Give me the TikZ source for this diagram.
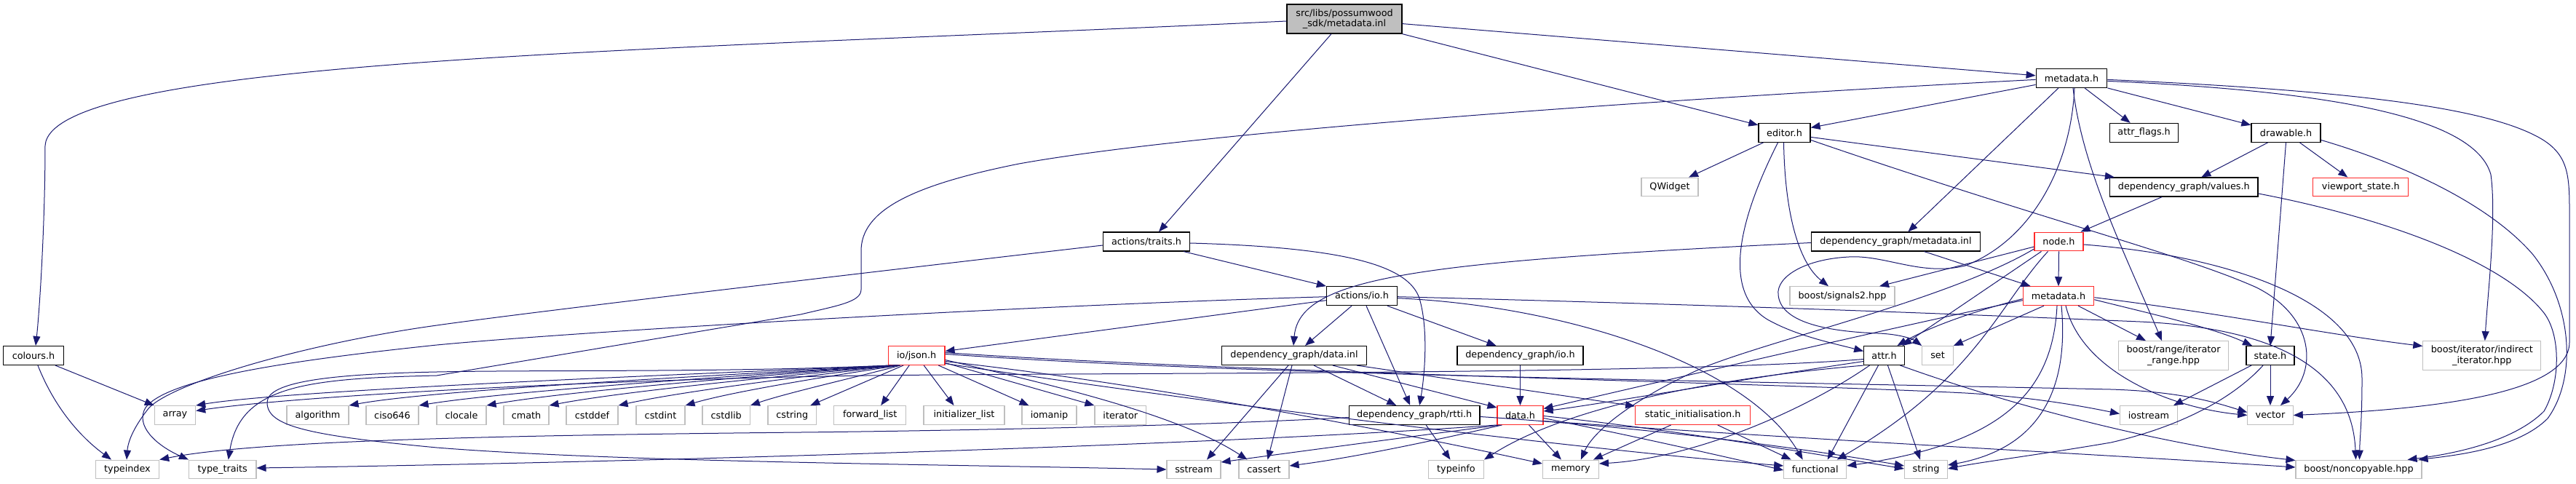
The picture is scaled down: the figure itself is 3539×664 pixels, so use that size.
\documentclass[tikz,border=0pt]{standalone}
\usepackage{fontspec}
\setmainfont{DejaVu Sans}
\usetikzlibrary{arrows.meta}
\definecolor{edgecol}{HTML}{191970}
\definecolor{gbox}{HTML}{BFBFBF}
\definecolor{rbox}{HTML}{FF2A2A}
\begin{document}
\begin{tikzpicture}[x=1pt,y=-1pt,
  nb/.style={draw=black,line width=1.3pt,fill=white,inner sep=0pt,minimum height=25.8pt,font=\fontsize{12.8pt}{14.5pt}\selectfont,align=center},
  ng/.style={nb,draw=gbox,line width=1.1pt},
  nr/.style={nb,draw=rbox,line width=1.1pt},
  ed/.style={draw=edgecol,line width=1pt,-{Triangle[length=13pt,width=10pt]}}]
\fill[white] (0,0) rectangle (3539,664);
\useasboundingbox (0,0) rectangle (3539,664);
% nodes
\node[nb,fill=gbox,minimum width=158pt,minimum height=40pt] (src) at (1847,26) {src/libs/possumwood\\\_sdk/metadata.inl};
\node[nb,minimum width=97.5pt] (metaH) at (2846,107.4) {metadata.h};
\node[nb,minimum width=83pt] (colours) at (46,488.5) {colours.h};
\node[nb,minimum width=119pt] (traits) at (1575,332) {actions/traits.h};
\node[nb,minimum width=71pt] (editor) at (2451.5,182.4) {editor.h};
\node[nb,minimum width=94pt] (attrflags) at (2945.6,182.4) {attr\_flags.h};
\node[nb,minimum width=95pt] (drawable) at (3140.5,182.4) {drawable.h};
\node[ng,minimum width=78pt] (qwidget) at (2294,257) {QWidget};
\node[nb,minimum width=203.5pt] (values) at (3000.3,257) {dependency\_graph/values.h};
\node[nr,minimum width=131pt] (viewport) at (3243.3,257) {viewport\_state.h};
\node[nb,minimum width=232pt] (dgmeta) at (2604.4,332) {dependency\_graph/metadata.inl};
\node[nr,minimum width=67pt] (nodeh) at (2828.5,332) {node.h};
\node[nb,minimum width=97pt] (actio) at (1871,406.7) {actions/io.h};
\node[ng,minimum width=144pt] (signals) at (2531,406.7) {boost/signals2.hpp};
\node[nr,minimum width=97.5pt] (dgmetah) at (2828,406.7) {metadata.h};
\node[nr,minimum width=77.6pt] (json) at (1259.2,488.5) {io/json.h};
\node[nb,minimum width=199pt] (datainl) at (1778,488.5) {dependency\_graph/data.inl};
\node[nb,minimum width=173pt] (dgio) at (2088.5,488.5) {dependency\_graph/io.h};
\node[nb,minimum width=55.4pt] (attr) at (2588.5,488.5) {attr.h};
\node[ng,minimum width=42.6pt] (setn) at (2662,488.5) {set};
\node[ng,minimum width=151pt,minimum height=39.6pt] (range) at (2986,488.5) {boost/range/iterator\\\_range.hpp};
\node[nb,minimum width=66pt] (state) at (3119,488.5) {state.h};
\node[ng,minimum width=162pt,minimum height=39.6pt] (indirect) at (3409.8,488.5) {boost/iterator/indirect\\\_iterator.hpp};
\node[ng,minimum width=56.3pt] (array) at (240.5,570.5) {array};
\node[ng,minimum width=85pt] (algorithm) at (436.5,570.5) {algorithm};
\node[ng,minimum width=72pt] (ciso646) at (539,570.5) {ciso646};
\node[ng,minimum width=68pt] (clocale) at (634,570.5) {clocale};
\node[ng,minimum width=62pt] (cmath) at (723,570.5) {cmath};
\node[ng,minimum width=71pt] (cstddef) at (813.5,570.5) {cstddef};
\node[ng,minimum width=67pt] (cstdint) at (907.5,570.5) {cstdint};
\node[ng,minimum width=65.4pt] (cstdlib) at (997.7,570.5) {cstdlib};
\node[ng,minimum width=66.7pt] (cstring) at (1088.3,570.5) {cstring};
\node[ng,minimum width=98.7pt] (fwdlist) at (1195.2,570.5) {forward\_list};
\node[ng,minimum width=111pt] (initlist) at (1324.5,570.5) {initializer\_list};
\node[ng,minimum width=75pt] (iomanip) at (1441.5,570.5) {iomanip};
\node[ng,minimum width=70.6pt] (iterator) at (1539.3,570.5) {iterator};
\node[nb,minimum width=179.6pt] (rtti) at (1943.2,570.5) {dependency\_graph/rtti.h};
\node[nr,minimum width=63pt] (datah) at (2088.5,570.5) {data.h};
\node[nr,minimum width=158pt] (staticinit) at (2325.7,570.5) {static\_initialisation.h};
\node[ng,minimum width=79pt] (iostream) at (2952,570.5) {iostream};
\node[ng,minimum width=62.4pt] (vector) at (3119,570.5) {vector};
\node[ng,minimum width=87.2pt] (typeindex) at (175,645) {typeindex};
\node[ng,minimum width=92.5pt] (typetraits) at (305.7,645) {type\_traits};
\node[ng,minimum width=74pt] (sstream) at (1640,645) {sstream};
\node[ng,minimum width=69pt] (cassert) at (1736.5,645) {cassert};
\node[ng,minimum width=75.8pt] (typeinfo) at (2000.5,645) {typeinfo};
\node[ng,minimum width=77pt] (memory) at (2157.9,645) {memory};
\node[ng,minimum width=86pt] (functional) at (2493.7,645) {functional};
\node[ng,minimum width=59pt] (stringn) at (2646,645) {string};
\node[ng,minimum width=173pt] (noncopyable) at (3240.5,645) {boost/noncopyable.hpp};
% src
\draw[ed] ([yshift=-3pt]src.west) .. controls (900,70) and (70,80) .. (62,200) .. controls (62,300) and (55,420) .. ([xshift=3pt]colours.north);
\draw[ed] ([xshift=-18pt]src.south) -- ([xshift=17pt]traits.north);
\draw[ed] (src.south east) -- ([yshift=-3pt]editor.north west);
\draw[ed] ([yshift=-6.6pt]src.east) -- ([yshift=3.6pt]metaH.west);
% metadata.h (top)
\draw[ed] ([yshift=-9pt]metaH.west) -- ([yshift=7pt]editor.east);
\draw[ed] ([xshift=18pt]metaH.south) -- ([xshift=-19pt]attrflags.north);
\draw[ed] (metaH.south east) -- ([yshift=-3pt]drawable.north west);
\draw[ed] ([xshift=-18pt]metaH.south) -- ([xshift=17pt]dgmeta.north);
\draw[ed] ([xshift=2pt]metaH.south) .. controls (2860,230) and (2920,350) .. ([xshift=-16pt]range.north);
\draw[ed] ([yshift=-4pt]metaH.east) .. controls (3200,125) and (3400,160) .. (3422,240) .. controls (3430,300) and (3418,400) .. ([xshift=4pt]indirect.north);
\draw[ed] ([yshift=-2pt]metaH.east) .. controls (3250,125) and (3420,150) .. (3490,190) .. controls (3528,212) and (3530,240) .. (3530,290) -- (3530,470) .. controls (3530,540) and (3350,562) .. (vector.east);
\draw[ed] ([xshift=4pt]metaH.south) .. controls (2845,230) and (2790,330) .. (2700,365) .. controls (2640,380) and (2590,350) .. (2540,353) .. controls (2480,356) and (2440,380) .. (2443,405) .. controls (2446,440) and (2500,455) .. (2580,458) .. controls (2610,459) and (2628,466) .. (setn.north west);
\draw[ed] ([yshift=-2pt]metaH.west) .. controls (2300,135) and (1650,180) .. (1400,225) .. controls (1250,255) and (1183,290) .. (1183,345) -- (1183,398) .. controls (1183,415) and (1150,420) .. (1100,432) -- (600,516) .. controls (420,520) and (330,530) .. ([xshift=8pt]typetraits.north);
% colours.h
\draw[ed] ([xshift=30pt]colours.south) -- (array.north west);
\draw[ed] ([xshift=6pt]colours.south) .. controls (75,560) and (110,600) .. ([xshift=-22pt]typeindex.north);
% actions/traits.h
\draw[ed] ([xshift=51pt]traits.south) -- (actio.north west);
\draw[ed] ([yshift=-2pt]traits.east) .. controls (1850,340) and (1935,365) .. (1950,410) .. controls (1962,450) and (1958,510) .. ([xshift=7pt]rtti.north);
\draw[ed] ([yshift=-5pt]traits.west) .. controls (1100,385) and (720,430) .. (600,447) .. controls (420,472) and (240,525) .. (205,560) .. controls (185,585) and (176,605) .. ([xshift=-1pt]typeindex.north);
% actions/io.h
\draw[ed] ([yshift=-6pt]actio.west) -- ([yshift=6pt]json.east);
\draw[ed] ([xshift=-14pt]actio.south) -- ([xshift=15pt]datainl.north);
\draw[ed] ([xshift=6pt]actio.south) -- ([xshift=-6pt]rtti.north);
\draw[ed] ([xshift=35pt]actio.south) -- ([xshift=-33pt]dgio.north);
\draw[ed] ([yshift=-1pt]actio.west) .. controls (1400,420) and (800,455) .. (600,474) .. controls (400,495) and (230,520) .. (200,560) .. controls (185,585) and (215,612) .. (typetraits.north west);
\draw[ed] ([yshift=-3pt]actio.east) .. controls (2150,420) and (2400,500) .. ([xshift=-17pt]functional.north);
\draw[ed] ([yshift=-1pt]actio.east) .. controls (2400,420) and (2700,432) .. (2940,442) .. controls (3150,452) and (3232,520) .. ([xshift=-4pt]noncopyable.north);
% io/json.h
\draw[ed] ([xshift=-30pt]json.south) .. controls (1000,512) and (400,535) .. (array.north east);
\draw[ed] ([xshift=-28pt]json.south) .. controls (1000,515) and (600,535) .. (algorithm.north east);
\draw[ed] ([xshift=-27pt]json.south) .. controls (1030,515) and (700,537) .. (ciso646.north east);
\draw[ed] ([xshift=-26pt]json.south) .. controls (1060,515) and (780,537) .. (clocale.north east);
\draw[ed] ([xshift=-25pt]json.south) .. controls (1090,515) and (860,537) .. (cmath.north east);
\draw[ed] ([xshift=-24pt]json.south) .. controls (1120,515) and (940,537) .. (cstddef.north east);
\draw[ed] ([xshift=-23pt]json.south) .. controls (1150,515) and (1010,537) .. (cstdint.north east);
\draw[ed] ([xshift=-22pt]json.south) .. controls (1190,515) and (1080,540) .. (cstdlib.north east);
\draw[ed] ([xshift=-18pt]json.south) -- ([xshift=25pt]cstring.north);
\draw[ed] ([xshift=-10pt]json.south) -- ([xshift=15pt]fwdlist.north);
\draw[ed] ([xshift=10pt]json.south) -- ([xshift=-14pt]initlist.north);
\draw[ed] ([xshift=30pt]json.south) -- ([xshift=-28pt]iomanip.north);
\draw[ed] ([yshift=-10pt]json.east) -- (iterator.north west);
\draw[ed] ([yshift=-6pt]json.east) .. controls (1450,530) and (1620,570) .. ([xshift=-23pt]cassert.north);
\draw[ed] ([xshift=-36pt]json.south) .. controls (1000,512) and (750,508) .. (600,511) .. controls (450,514) and (367,525) .. (367,553) .. controls (367,585) and (420,598) .. (600,615) .. controls (850,635) and (1300,638) .. (sstream.west);
\draw[ed] ([yshift=4pt]json.east) .. controls (1700,512) and (2400,525) .. (2700,540) .. controls (2800,546) and (2870,560) .. ([yshift=2pt]iostream.west);
\draw[ed] ([yshift=2pt]json.east) .. controls (1700,515) and (2300,522) .. (2900,535) .. controls (3000,538) and (3050,555) .. ([yshift=4pt]vector.west);
\draw[ed] ([yshift=-8pt]json.east) .. controls (1600,530) and (1950,600) .. ([yshift=8pt]memory.west);
\draw[ed] ([yshift=-11pt]json.east) .. controls (1700,560) and (2200,620) .. ([yshift=5pt]functional.west);
% dependency_graph/data.inl
\draw[ed] ([xshift=27pt]datainl.south) -- ([xshift=-25pt]rtti.north);
\draw[ed] ([xshift=53pt]datainl.south) -- ([yshift=-3pt]datah.north west);
\draw[ed] ([xshift=86pt]datainl.south) -- ([yshift=-1pt]staticinit.north west);
\draw[ed] ([xshift=-8pt]datainl.south) -- ([xshift=18pt]sstream.north);
\draw[ed] ([xshift=-3pt]datainl.south) -- ([xshift=5pt]cassert.north);
% dependency_graph/io.h
\draw[ed] (dgio.south) -- (datah.north);
% attr.h
\draw[ed] ([xshift=-8pt]attr.south) -- ([xshift=17pt]functional.north);
\draw[ed] ([xshift=5pt]attr.south) -- ([xshift=-8pt]stringn.north);
\draw[ed] ([xshift=-20pt]attr.south) .. controls (2470,570) and (2320,630) .. ([yshift=8pt]memory.east);
\draw[ed] ([yshift=-8pt]attr.west) .. controls (2400,520) and (2200,555) .. ([yshift=5.5pt]datah.east);
\draw[ed] (attr.south west) .. controls (2350,520) and (2150,560) .. (typeinfo.north east);
\draw[ed] ([xshift=22pt]attr.south) .. controls (2800,570) and (3000,615) .. ([yshift=-1pt]noncopyable.north west);
\draw[ed] ([yshift=-5pt]attr.west) .. controls (2300,515) and (1500,512) .. (1190,516) .. controls (800,522) and (400,545) .. ([yshift=-7.4pt]array.north east);
% dependency_graph/rtti.h
\draw[ed] ([xshift=16pt]rtti.south) -- ([xshift=-8pt]typeinfo.north);
\draw[ed] ([yshift=-3pt]rtti.west) .. controls (1650,585) and (1300,592) .. (1100,594) .. controls (700,598) and (350,605) .. (typeindex.north east);
\draw[ed] ([yshift=-2pt]rtti.east) .. controls (2300,590) and (2500,620) .. ([yshift=5pt]stringn.west);
% data.h
\draw[ed] ([xshift=12pt]datah.south) -- ([xshift=-13pt]memory.north);
\draw[ed] (datah.south west) .. controls (1700,610) and (900,635) .. ([yshift=2pt]typetraits.east);
\draw[ed] ([xshift=-28pt]datah.south) .. controls (1900,605) and (1750,625) .. ([yshift=10pt]sstream.east);
\draw[ed] ([xshift=-25pt]datah.south) .. controls (1950,610) and (1850,630) .. ([yshift=5pt]cassert.east);
\draw[ed] ([yshift=-4pt]datah.east) .. controls (2250,600) and (2380,630) .. ([yshift=-1pt]functional.west);
\draw[ed] ([yshift=-1pt]datah.east) .. controls (2300,590) and (2500,625) .. ([yshift=1pt]stringn.west);
\draw[ed] ([yshift=-8pt]datah.east) .. controls (2500,605) and (2900,625) .. ([yshift=3pt]noncopyable.west);
% static_initialisation.h
\draw[ed] ([xshift=-30pt]staticinit.south) -- ([xshift=-8pt]memory.north east);
\draw[ed] ([xshift=34pt]staticinit.south) -- ([xshift=-33pt]functional.north);
% state.h
\draw[ed] ([xshift=-26pt]state.south) -- ([xshift=34pt]iostream.north);
\draw[ed] (state.south) -- (vector.north);
\draw[ed] ([xshift=-10pt]state.south) .. controls (3070,545) and (3000,585) .. (2900,608) .. controls (2800,625) and (2720,635) .. ([yshift=1pt]stringn.east);
% editor.h
\draw[ed] ([xshift=-29pt]editor.south) -- ([xshift=26pt]qwidget.north);
\draw[ed] ([yshift=-6pt]editor.east) -- ([xshift=7pt]values.north west);
\draw[ed] ([xshift=-1pt]editor.south) .. controls (2452,290) and (2470,360) .. ([xshift=-19pt]signals.north);
\draw[ed] ([xshift=-9pt]editor.south) .. controls (2395,290) and (2360,400) .. (2430,440) .. controls (2470,462) and (2520,472) .. ([yshift=6pt]attr.west);
\draw[ed] ([yshift=-10pt]editor.east) .. controls (2800,300) and (3000,350) .. (3100,395) .. controls (3180,435) and (3185,510) .. ([xshift=14pt]vector.north);
% drawable.h
\draw[ed] ([xshift=-25pt]drawable.south) -- ([xshift=24pt]values.north);
\draw[ed] ([xshift=19pt]drawable.south) -- ([xshift=-18pt]viewport.north);
\draw[ed] (drawable.south) -- (state.north);
\draw[ed] ([yshift=-10pt]drawable.east) .. controls (3300,225) and (3420,280) .. (3480,350) .. controls (3535,420) and (3540,520) .. (3500,575) .. controls (3460,615) and (3380,625) .. ([xshift=-5pt]noncopyable.north east);
% dependency_graph/values.h
\draw[ed] ([xshift=-30pt]values.south) -- ([xshift=30pt]nodeh.north);
\draw[ed] ([yshift=-9pt]values.east) .. controls (3280,300) and (3440,360) .. (3495,430) .. controls (3518,460) and (3518,525) .. (3495,565) .. controls (3450,610) and (3360,625) .. ([xshift=-20pt]noncopyable.north east);
% node.h
\draw[ed] (nodeh.south) -- (dgmetah.north);
\draw[ed] ([yshift=-7pt]nodeh.west) -- ([xshift=51pt]signals.north);
\draw[ed] ([xshift=-24pt]nodeh.south) -- ([xshift=25pt]attr.north);
\draw[ed] ([xshift=-15pt]nodeh.south) .. controls (2745,420) and (2715,520) .. ([xshift=30pt]functional.north);
\draw[ed] ([yshift=-4pt]nodeh.east) .. controls (3050,350) and (3245,410) .. (3245,520) .. controls (3245,580) and (3242,600) .. ([xshift=1pt]noncopyable.north);
\draw[ed] ([yshift=-10pt]nodeh.west) .. controls (2680,410) and (2440,465) .. (2340,505) .. controls (2250,545) and (2190,590) .. ([xshift=14pt]memory.north);
% dependency_graph/metadata.inl
\draw[ed] ([yshift=-1.5pt]dgmeta.west) .. controls (1950,360) and (1785,380) .. ([xshift=-1pt]datainl.north);
\draw[ed] ([xshift=39pt]dgmeta.south) -- ([xshift=11pt]dgmetah.north west);
% dependency_graph/metadata.h
\draw[ed] ([yshift=-4pt]dgmetah.west) .. controls (2700,430) and (2640,455) .. ([xshift=18pt]attr.north);
\draw[ed] ([xshift=-20pt]dgmetah.south) -- (setn.north east);
\draw[ed] ([xshift=27pt]dgmetah.south) -- ([xshift=-38pt]range.north);
\draw[ed] ([yshift=-5pt]dgmetah.east) .. controls (2950,430) and (3040,450) .. ([xshift=-25pt]state.north);
\draw[ed] ([yshift=-2pt]dgmetah.east) .. controls (3050,430) and (3200,460) .. ([yshift=13pt]indirect.west);
\draw[ed] ([xshift=10pt]dgmetah.south) .. controls (2860,510) and (2980,560) .. (vector.west);
\draw[ed] ([xshift=-2pt]dgmetah.south) .. controls (2820,540) and (2750,610) .. ([yshift=5pt]functional.east);
\draw[ed] ([xshift=4pt]dgmetah.south) .. controls (2845,560) and (2780,620) .. ([yshift=6pt]stringn.east);
\draw[ed] ([yshift=-6pt]dgmetah.west) .. controls (2600,450) and (2300,520) .. ([yshift=9pt]datah.east);
\end{tikzpicture}
\end{document}
